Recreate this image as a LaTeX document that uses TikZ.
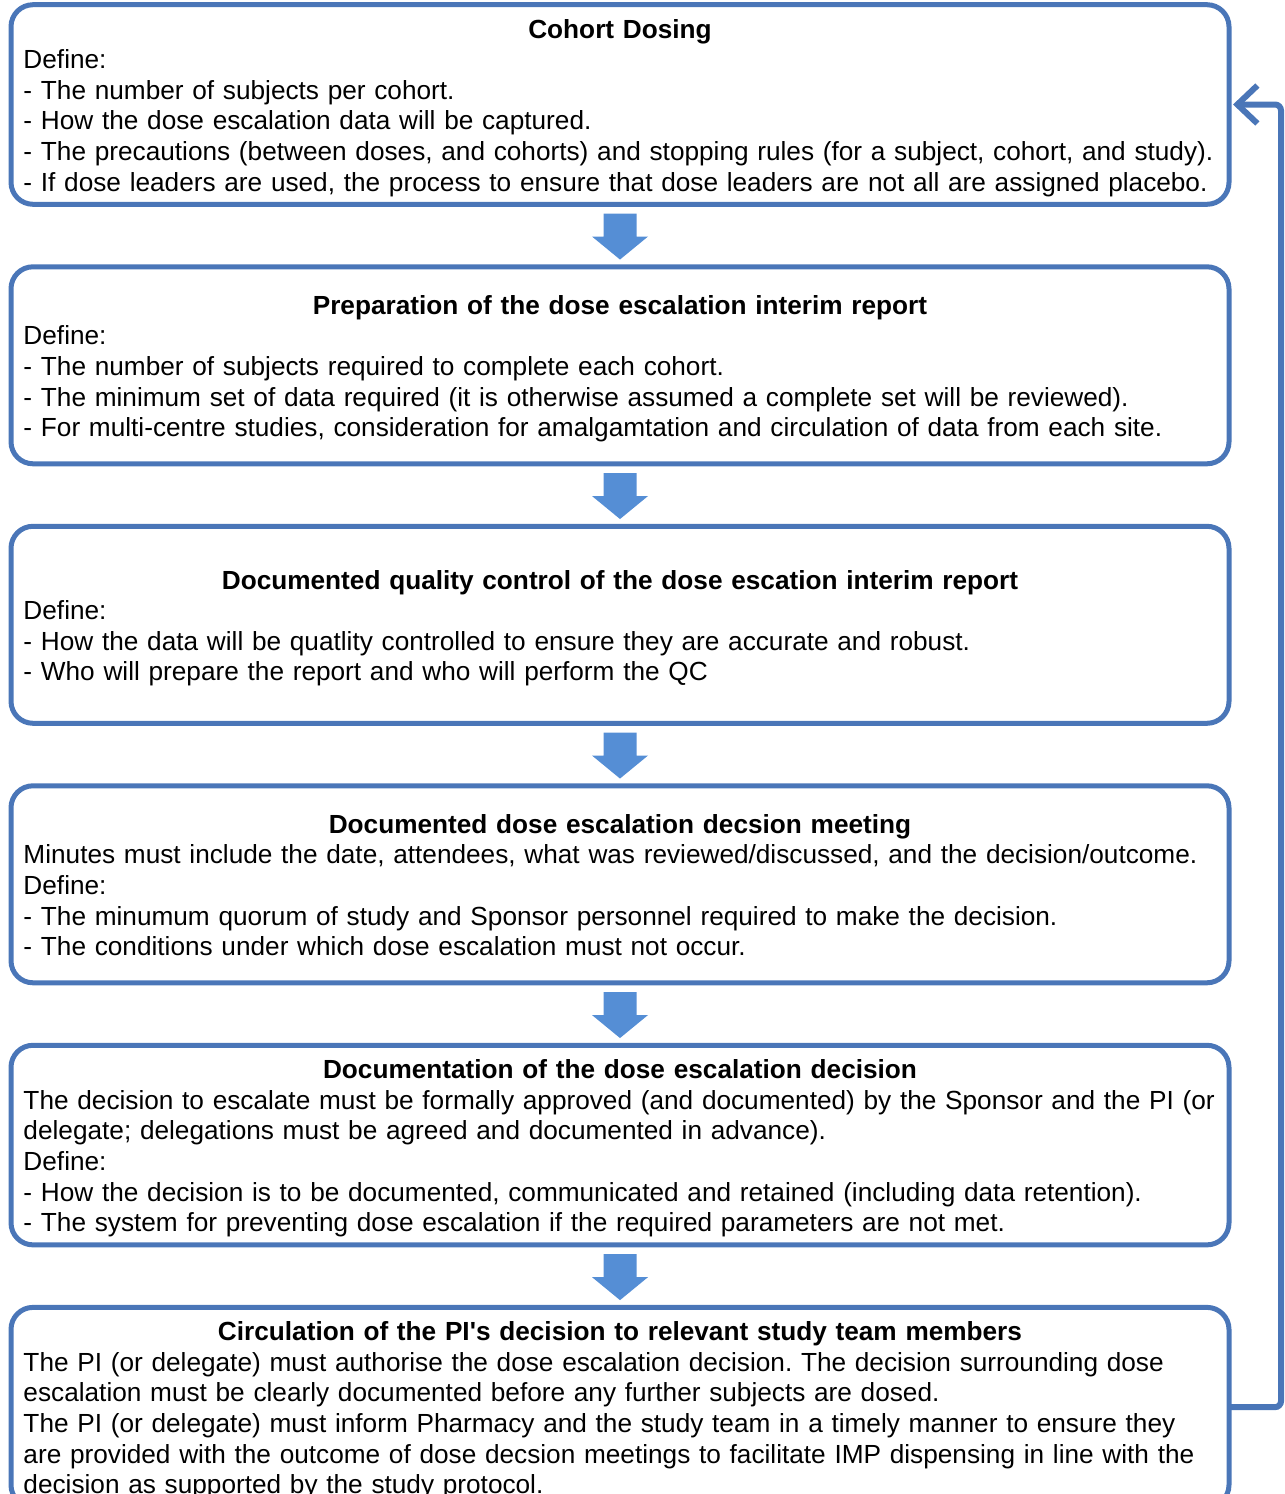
\documentclass[tikz,border=0pt]{standalone}
\usepackage{fontspec}
\setmainfont{Liberation Sans}
\usetikzlibrary{arrows.meta,positioning,calc}
\definecolor{boxblue}{HTML}{4A76B8}
\definecolor{arrowblue}{HTML}{558ED5}
\newcommand\stagetitle[1]{{\centering\bfseries\rule{0pt}{14.7pt}#1\par}}
\frenchspacing

\begin{document}
\begin{tikzpicture}[x=0.5pt,y=-0.5pt,node distance=31.25pt,
  stage/.style={draw=boxblue,line width=2.5pt,rounded corners=11pt,outer sep=0pt,
    text width=596.5pt,inner xsep=6.25pt,inner ysep=2pt,minimum height=98.5pt,
    align=left,font=\fontsize{13.1}{15.3}\selectfont,execute at end node=\strut},
  downarrow/.style={fill=arrowblue},
  loopback/.style={draw=boxblue,line width=3pt,rounded corners=3pt,shorten >=2pt,
    -{Straight Barb[length=10pt,width=19pt]}}]
  \useasboundingbox (0,0) rectangle (1285,1494);

  \node[stage] (dosing) at (620,104.5) {\stagetitle{Cohort Dosing}
    Define:\\
    - The number of subjects per cohort.\\
    - How the dose escalation data will be captured.\\
    - The precautions (between doses, and cohorts) and stopping rules (for a subject, cohort, and study).\\
    - If dose leaders are used, the process to ensure that dose leaders are not all are assigned placebo.};
  \node[stage] (prep) [below=of dosing] {\stagetitle{Preparation of the dose escalation interim report}
    Define:\\
    - The number of subjects required to complete each cohort.\\
    - The minimum set of data required (it is otherwise assumed a complete set will be reviewed).\\
    - For multi-centre studies, consideration for amalgamtation and circulation of data from each site.};
  \node[stage] (qc) [below=of prep] {\stagetitle{Documented quality control of the dose escation interim report}
    Define:\\
    - How the data will be quatlity controlled to ensure they are accurate and robust.\\
    - Who will prepare the report and who will perform the QC};
  \node[stage] (meet) [below=of qc] {\stagetitle{Documented dose escalation decsion meeting}
    Minutes must include the date, attendees, what was reviewed/discussed, and the decision/outcome.\\
    Define:\\
    - The minumum quorum of study and Sponsor personnel required to make the decision.\\
    - The conditions under which dose escalation must not occur.};
  \node[stage] (decide) [below=of meet] {\stagetitle{Documentation of the dose escalation decision}
    The decision to escalate must be formally approved (and documented) by the Sponsor and the PI (or\\
    delegate; delegations must be agreed and documented in advance).\\
    Define:\\
    - How the decision is to be documented, communicated and retained (including data retention).\\
    - The system for preventing dose escalation if the required parameters are not met.};
  \node[stage] (circ) [below=of decide] {\stagetitle{Circulation of the PI\textquotesingle s decision to relevant study team members}
    The PI (or delegate) must authorise the dose escalation decision. The decision surrounding dose\\
    escalation must be clearly documented before any further subjects are dosed.\\
    The PI (or delegate) must inform Pharmacy and the study team in a timely manner to ensure they\\
    are provided with the outcome of dose decsion meetings to facilitate IMP dispensing in line with the\\
    decision as supported by the study protocol.};

  % block arrows between the stages
  \foreach \a/\b in {dosing/prep,prep/qc,qc/meet,meet/decide,decide/circ}
    \fill[downarrow] ($(\a.south)!0.5!(\b.north)$) ++(-16.5,-22) -- ++(33,0) -- ++(0,23)
      -- ++(11.5,0) -- ++(-28,23) -- ++(-28,-23) -- ++(11.5,0) -- cycle;

  % back to the next cohort
  \draw[loopback] (circ.east) -- ++(52,0) |- (dosing.east);
\end{tikzpicture}
\end{document}
